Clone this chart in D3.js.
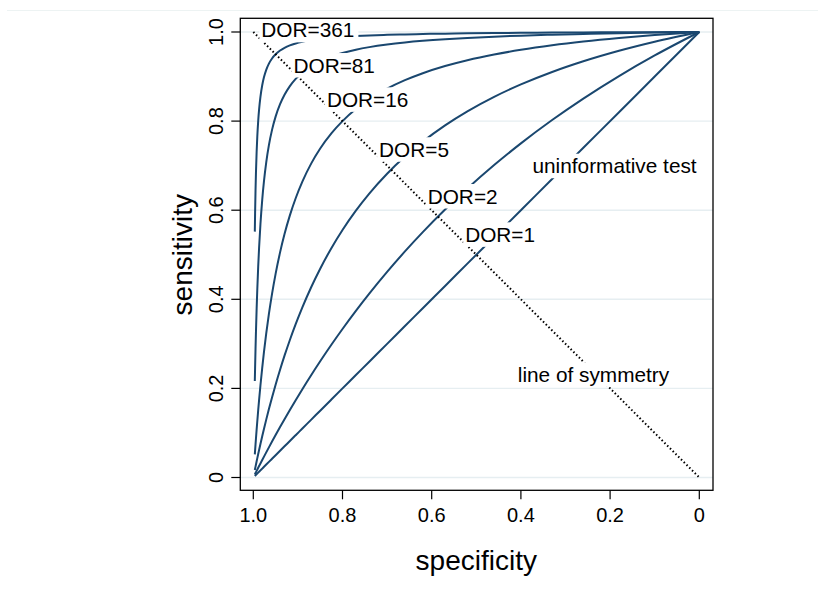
<!DOCTYPE html>
<html>
<head>
<meta charset="utf-8">
<script src="https://cdn.jsdelivr.net/npm/d3@7"></script>
<style>
  html, body { margin: 0; padding: 0; background: #fff; }
  svg { display: block; font-family: "Liberation Sans", Arial, Helvetica, sans-serif; }
</style>
</head>
<body>
<svg id="chart" width="818" height="601"></svg>
<script>
// Diagnostic odds ratios of the plotted ROC curves
const dorValues = [1, 2, 5, 16, 81, 361];

// False-positive rates (1 - specificity) at which each curve is sampled
const fprSamples = [0.0034, 0.004, 0.005, 0.006, 0.0075, 0.009, 0.011, 0.013, 0.016, 0.02,
  0.024, 0.029, 0.035, 0.042, 0.05, 0.06, 0.07, 0.082, 0.095, 0.11, 0.13, 0.15, 0.175,
  0.2, 0.23, 0.26, 0.3, 0.34, 0.38, 0.43, 0.48, 0.54, 0.6, 0.67, 0.74, 0.82, 0.9, 1.0];

// Axis ticks
const xTicks = [1.0, 0.8, 0.6, 0.4, 0.2, 0];
const xTickLabels = ["1.0", "0.8", "0.6", "0.4", "0.2", "0"];
const yTicks = [0, 0.2, 0.4, 0.6, 0.8, 1.0];
const yTickLabels = ["0", "0.2", "0.4", "0.6", "0.8", "1.0"];

// Text annotations: label, specificity and sensitivity of the text's left baseline
const noteText = ["DOR=361", "DOR=81", "DOR=16", "DOR=5", "DOR=2", "DOR=1", "uninformative test", "line of symmetry"];
const noteSpec = [0.982, 0.910, 0.835, 0.718, 0.609, 0.525, 0.374, 0.407];
const noteSens = [0.988, 0.909, 0.832, 0.720, 0.615, 0.529, 0.683, 0.215];

const svg = d3.select("#chart");
const curveColor = "#1a476f";

const x = d3.scaleLinear().domain([1, 0]).range([253.3, 699.3]);
const y = d3.scaleLinear().domain([0, 1]).range([477.5, 32]);

const plot = { left: 240.3, top: 18.3, right: 713, bottom: 490.3 };

// faint outer graph-region rule
svg.append("line")
  .attr("x1", 7).attr("x2", 818).attr("y1", 10.5).attr("y2", 10.5)
  .attr("stroke", "#edf3f3").attr("stroke-width", 1);

// horizontal grid lines
svg.append("g").selectAll("line").data(yTicks).join("line")
  .attr("x1", plot.left).attr("x2", plot.right)
  .attr("y1", d => y(d)).attr("y2", d => y(d))
  .attr("stroke", "#e6eef1").attr("stroke-width", 1.4);

// ROC curves for each diagnostic odds ratio
const sensFor = (dor, f) => dor * f / (1 - f + dor * f);
const line = d3.line()
  .x(d => x(1 - d[0]))
  .y(d => y(d[1]))
  .curve(d3.curveMonotoneX);

svg.append("g").selectAll("path").data(dorValues).join("path")
  .attr("d", dor => line(fprSamples.map(f => [f, sensFor(dor, f)])))
  .attr("fill", "none")
  .attr("stroke", curveColor)
  .attr("stroke-width", 2);

// line of symmetry (sensitivity = specificity)
svg.append("line")
  .attr("x1", x(1)).attr("y1", y(1))
  .attr("x2", x(0)).attr("y2", y(0))
  .attr("stroke", "#000")
  .attr("stroke-width", 2)
  .attr("stroke-dasharray", "1.5,2.4");

// annotations on white boxes
const notes = svg.append("g");
noteText.forEach((t, i) => {
  const g = notes.append("g");
  const txt = g.append("text")
    .attr("x", x(noteSpec[i]))
    .attr("y", y(noteSens[i]))
    .attr("font-size", 20.8)
    .attr("fill", "#000")
    .text(t);
  const bb = txt.node().getBBox();
  g.insert("rect", "text")
    .attr("x", bb.x - 2)
    .attr("y", y(noteSens[i]) - 19.5)
    .attr("width", bb.width + 6)
    .attr("height", 24.5)
    .attr("fill", "#fff");
});

// plot frame
svg.append("rect")
  .attr("x", plot.left).attr("y", plot.top)
  .attr("width", plot.right - plot.left).attr("height", plot.bottom - plot.top)
  .attr("fill", "none").attr("stroke", "#000").attr("stroke-width", 1.3);

// x axis ticks and labels
const xAxis = svg.append("g");
xAxis.selectAll("line").data(xTicks).join("line")
  .attr("x1", d => x(d)).attr("x2", d => x(d))
  .attr("y1", plot.bottom).attr("y2", plot.bottom + 9)
  .attr("stroke", "#000").attr("stroke-width", 1.2);
xAxis.selectAll("text").data(xTicks).join("text")
  .attr("x", d => x(d)).attr("y", 521.7)
  .attr("text-anchor", "middle")
  .attr("font-size", 20)
  .text((d, i) => xTickLabels[i]);

// y axis ticks and labels (rotated)
const yAxis = svg.append("g");
yAxis.selectAll("line").data(yTicks).join("line")
  .attr("x1", plot.left - 9).attr("x2", plot.left)
  .attr("y1", d => y(d)).attr("y2", d => y(d))
  .attr("stroke", "#000").attr("stroke-width", 1.2);
yAxis.selectAll("text").data(yTicks).join("text")
  .attr("transform", d => `translate(223,${y(d)}) rotate(-90)`)
  .attr("text-anchor", "middle")
  .attr("font-size", 20)
  .text((d, i) => yTickLabels[i]);

// axis titles
svg.append("text")
  .attr("x", (x(1) + x(0)) / 2).attr("y", 570)
  .attr("text-anchor", "middle")
  .attr("font-size", 28)
  .text("specificity");

svg.append("text")
  .attr("transform", `translate(191.7,${(y(0) + y(1)) / 2}) rotate(-90)`)
  .attr("text-anchor", "middle")
  .attr("font-size", 28)
  .text("sensitivity");
</script>
</body>
</html>
